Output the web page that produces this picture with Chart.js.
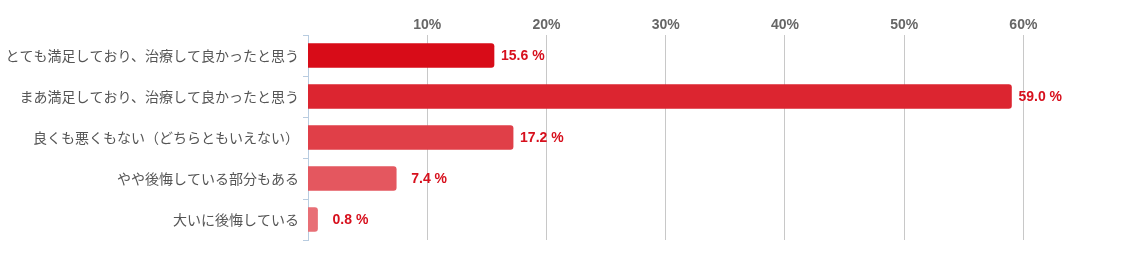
<!DOCTYPE html>
<html>
<head>
<meta charset="utf-8">
<script src="https://cdn.jsdelivr.net/npm/chart.js@4"></script>
<style>
  html, body { margin: 0; padding: 0; background: #fff; }
  #wrap { width: 1124px; height: 255px; }
</style>
</head>
<body>
<div id="wrap"><canvas id="chart" width="1124" height="255"></canvas></div>
<script>
// Data
const categories = [
  'とても満足しており、治療して良かったと思う',
  'まあ満足しており、治療して良かったと思う',
  '良くも悪くもない（どちらともいえない）',
  'やや後悔している部分もある',
  '大いに後悔している'
];
const percentValues = [15.6, 59.0, 17.2, 7.4, 0.8];
const tickValues = [10, 20, 30, 40, 50, 60];
const barColors = ['#d80c18', '#dc2530', '#e03f48', '#e4575f', '#e86f76'];

// Draw "xx.x %" right of each bar
const valueLabels = {
  id: 'valueLabels',
  afterDatasetsDraw(chart) {
    const ctx = chart.ctx;
    const meta = chart.getDatasetMeta(0);
    ctx.save();
    ctx.font = 'bold 14px "Liberation Sans", Arial, sans-serif';
    ctx.fillStyle = '#d7101d';
    ctx.textAlign = 'left';
    ctx.textBaseline = 'middle';
    meta.data.forEach((bar, i) => {
      const v = percentValues[i];
      const off = v < 10 ? 15 : 7;
      ctx.fillText(v.toFixed(1) + ' %', bar.x + off, bar.y + 1);
    });
    ctx.restore();
  }
};

const ctx = document.getElementById('chart').getContext('2d');
new Chart(ctx, {
  type: 'bar',
  data: {
    labels: categories,
    datasets: [{
      data: percentValues,
      backgroundColor: barColors,
      borderRadius: 3,
      barThickness: 24
    }]
  },
  options: {
    indexAxis: 'y',
    responsive: false,
    animation: false,
    layout: { padding: { top: 0, right: 41, bottom: 15, left: 0 } },
    plugins: {
      legend: { display: false },
      tooltip: { enabled: false }
    },
    scales: {
      x: {
        position: 'top',
        min: 0,
        max: 65,
        afterBuildTicks: s => { s.ticks = tickValues.map(v => ({ value: v })); },
        afterFit: s => { s.height = 35; },
        border: { display: false },
        grid: { color: '#c8c8c8', lineWidth: 1, drawTicks: false },
        ticks: {
          padding: 1,
          color: '#666',
          font: { family: '"Liberation Sans", Arial, sans-serif', size: 14, weight: 'bold' },
          callback: v => v + '%'
        }
      },
      y: {
        afterFit: s => { s.width = 308; },
        border: { display: true, color: '#b8cce0', width: 1 },
        grid: { drawOnChartArea: false, color: '#b8cce0', tickLength: 5 },
        ticks: {
          padding: 4,
          color: '#555',
          font: { family: '"Noto Sans CJK JP", sans-serif', size: 14 }
        }
      }
    }
  },
  plugins: [valueLabels]
});
</script>
</body>
</html>
